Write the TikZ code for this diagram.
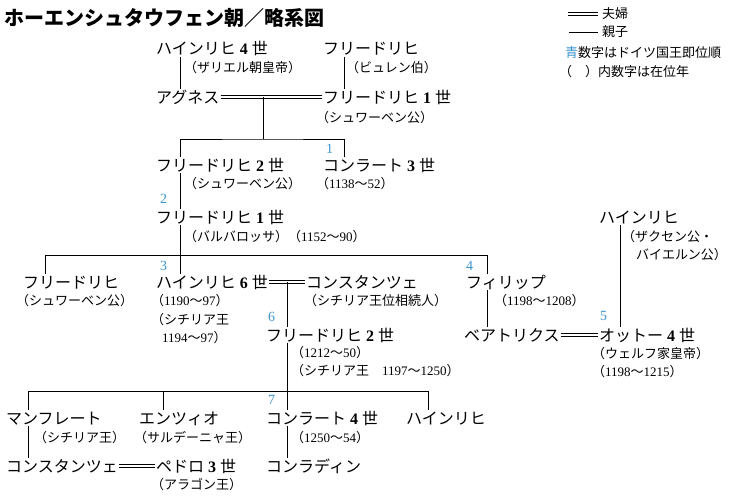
\documentclass[tikz,border=0pt]{standalone}
\usepackage{fontspec}
\setmainfont{Noto Sans CJK JP}
\newfontfamily\digitfont{Liberation Serif}
\newcommand\N[1]{{\digitfont #1}}
\newcommand\ND[1]{\makebox[1em]{\digitfont\bfseries #1}}
\usetikzlibrary{calc}
\definecolor{numblue}{RGB}{60,150,205}
\begin{document}
\begin{tikzpicture}[x=1pt,y=-1pt,
  nm/.style={anchor=west, inner sep=1pt, font=\fontsize{16}{18}\selectfont, text height=13pt, text depth=1pt},
  sb/.style={anchor=west, inner sep=0pt, font=\fontsize{13}{15}\selectfont, text height=11pt, text depth=1pt},
  lg/.style={anchor=west, inner sep=0pt, font=\fontsize{13}{15}\selectfont, text height=11pt, text depth=1pt},
  num/.style={anchor=west, inner sep=0pt, text=numblue, font=\digitfont\fontsize{14}{16}\selectfont, text height=9.5pt, text depth=0pt},
  ln/.style={line width=0.9pt},
  dbl/.style={double, double distance=1.8pt, line width=0.7pt}]
\useasboundingbox[fill=white] (0,0) rectangle (733,495);

% title
\node[anchor=west, inner sep=0pt, font=\fontsize{20}{22}\selectfont\bfseries, text height=17pt, text depth=2pt] (title) at (4,18) {ホーエンシュタウフェン朝／略系図};

% legend
\coordinate (lga) at (568,14); \coordinate (lgb) at (598,14);
\coordinate (lgc) at (569,32); \coordinate (lgd) at (598,32);
\draw[dbl] (lga) -- (lgb);
\draw[ln] (lgc) -- (lgd);
\node[lg] (fufu) at (602,14) {夫婦};
\node[lg] (oyako) at (602,32) {親子};
\node[lg] (leg3) at (565,52) {\textcolor{numblue}{青}数字はドイツ国王即位順};
\node[lg] (leg4) at (559,72) {（　）内数字は在位年};

% names
\node[nm] (hein4) at (155,49) {ハインリヒ\ND{4}世};
\node[nm] (fbur) at (322,49) {フリードリヒ};
\node[nm] (agnes) at (155,97) {アグネス};
\node[nm] (fr1s) at (322,97) {フリードリヒ\ND{1}世};
\node[nm] (fr2s) at (155,165) {フリードリヒ\ND{2}世};
\node[nm] (con3) at (322,165) {コンラート\ND{3}世};
\node[nm] (barb) at (155,217) {フリードリヒ\ND{1}世};
\node[nm] (fsw) at (22,282) {フリードリヒ};
\node[nm] (h6) at (155,282) {ハインリヒ\ND{6}世};
\node[nm] (konst) at (305,282) {コンスタンツェ};
\node[nm] (phil) at (465,282) {フィリップ};
\node[nm] (hsax) at (598,217) {ハインリヒ};
\node[nm] (fr2) at (265,335) {フリードリヒ\ND{2}世};
\node[nm] (beat) at (463,335) {ベアトリクス};
\node[nm] (otto) at (598,335) {オットー\ND{4}世};
\node[nm] (manf) at (5,418) {マンフレート};
\node[nm] (enzio) at (138,418) {エンツィオ};
\node[nm] (con4) at (265,418) {コンラート\ND{4}世};
\node[nm] (hein) at (405,418) {ハインリヒ};
\node[nm] (konst2) at (5,466) {コンスタンツェ};
\node[nm] (pedro) at (155,466) {ペドロ\ND{3}世};
\node[nm] (konradin) at (265,466) {コンラディン};

% sub labels
\node[sb] (hein4s) at (184,68) {（ザリエル朝皇帝）};
\node[sb] (fburs) at (346,68) {（ビュレン伯）};
\node[sb] (fr1ss) at (316,117) {（シュワーベン公）};
\node[sb] (fr2ss) at (184,183) {（シュワーベン公）};
\node[sb] (con3s) at (316,183) {（\N{1138}～\N{52}）};
\node[sb] (barbs) at (184,236) {（バルバロッサ）（\N{1152}～\N{90}）};
\node[sb] (fsws) at (16,300) {（シュワーベン公）};
\node[sb] (h6s1) at (151,300) {（\N{1190}～\N{97}）};
\node[sb] (h6s2) at (151,319) {（シチリア王};
\node[sb] (h6s3) at (162,337) {\N{1194}～\N{97}）};
\node[sb] (konsts) at (304,300) {（シチリア王位相続人）};
\node[sb] (phils) at (494,300) {（\N{1198}～\N{1208}）};
\node[sb] (hsaxs1) at (622,236) {（ザクセン公・};
\node[sb] (hsaxs2) at (636,254) {バイエルン公）};
\node[sb] (fr2s1) at (291,352) {（\N{1212}～\N{50}）};
\node[sb] (fr2s2) at (291,370) {（シチリア王　\N{1197}～\N{1250}）};
\node[sb] (ottos1) at (592,353) {（ウェルフ家皇帝）};
\node[sb] (ottos2) at (592,371) {（\N{1198}～\N{1215}）};
\node[sb] (manfs) at (34,437) {（シチリア王）};
\node[sb] (enzios) at (134,437) {（サルデーニャ王）};
\node[sb] (con4s) at (291,437) {（\N{1250}～\N{54}）};
\node[sb] (pedros) at (151,484) {（アラゴン王）};

% blue numbers
\node[num] (n1) at (326,149) {1};
\node[num] (n2) at (160,199) {2};
\node[num] (n3) at (160,266) {3};
\node[num] (n4) at (466,266) {4};
\node[num] (n5) at (600,316) {5};
\node[num] (n6) at (268,317) {6};
\node[num] (n7) at (268,400) {7};

% connectors: generation 1
\draw[ln] ([xshift=25pt]hein4.south west) -- ([xshift=25pt]agnes.north west);
\draw[ln] ([xshift=22pt]fbur.south west) -- ([xshift=22pt]fr1s.north west);
\draw[dbl] (agnes.east) -- (fr1s.west);
\coordinate (m1) at ($(agnes.east)!0.42!(fr1s.west)$);
\coordinate (b1) at ($(m1)+(0,42)$);
\draw[ln] (m1) -- (b1);
\draw[ln] ([xshift=25pt]fr2s.north west) |- (b1) -| ([xshift=22pt]con3.north west);

% generation 2-3
\draw[ln] ([xshift=25pt]fr2s.south west) -- ([xshift=25pt]barb.north west);
\coordinate (ba) at ([xshift=25pt]barb.south west);
\coordinate (b2) at ($(ba)+(0,30)$);
\draw[ln] (ba) -- ([xshift=25pt]h6.north west);
\draw[ln] ([xshift=23pt]fsw.north west) |- (b2) -| ([xshift=22pt]phil.north west);

% Philipp - Beatrix = Otto
\coordinate (pa) at ([xshift=22pt]phil.south west);
\draw[ln] (pa) -- (pa |- beat.north);
\draw[dbl] (beat.east) -- (otto.west);
\draw[ln] ([xshift=22pt]hsax.south west) -- ([xshift=22pt]otto.north west);

% Heinrich VI = Konstanze -> Friedrich II
\draw[dbl] (h6.east) -- (konst.west);
\coordinate (m2) at ($(h6.east)!0.5!(konst.west)$);
\draw[ln] (m2) -- (m2 |- fr2.north);

% Friedrich II children
\coordinate (fa) at ([xshift=22pt]fr2.south west);
\coordinate (b3) at ($(fa)+(0,48)$);
\draw[ln] (fa) -- ([xshift=22pt]con4.north west);
\draw[ln] ([xshift=23pt]manf.north west) |- (b3) -| ([xshift=23pt]hein.north west);
\coordinate (ea) at ([xshift=25pt]enzio.north west);
\draw[ln] (ea) -- (ea |- b3);

% last generation
\draw[ln] ([xshift=23pt]manf.south west) -- ([xshift=23pt]konst2.north west);
\draw[ln] ([xshift=22pt]con4.south west) -- ([xshift=22pt]konradin.north west);
\draw[dbl] (konst2.east) -- (pedro.west);
\end{tikzpicture}
\end{document}
